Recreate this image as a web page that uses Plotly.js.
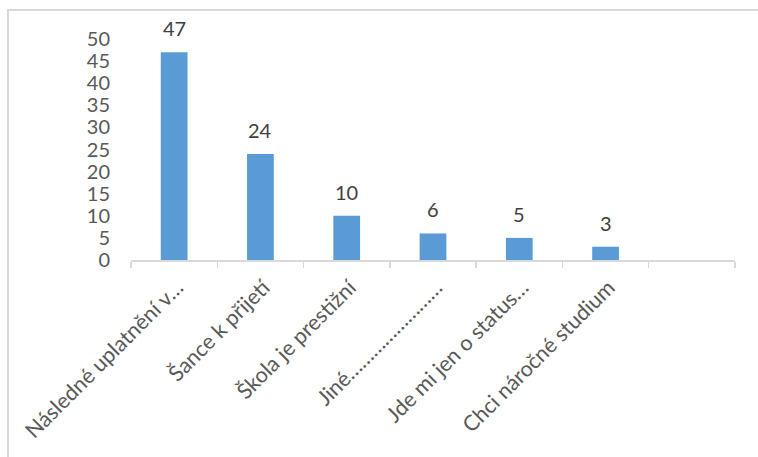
<!DOCTYPE html>
<html>
<head>
<meta charset="utf-8">
<script src="https://cdn.plot.ly/plotly-3.0.1.min.js"></script>
<style>
html,body{margin:0;padding:0;background:#fff;}
#chart{width:758px;height:457px;}
</style>
</head>
<body>
<div id="chart"></div>
<script>
const categories = [
  "Následné uplatnění v…",
  "Šance k přijetí",
  "Škola je prestižní",
  "Jiné\u2026\u2026\u2026\u2026\u2026\u2026\u2026\u2026",
  "Jde mi jen o status…",
  "Chci náročné studium",
  " "
];
const values = [47, 24, 10, 6, 5, 3, null];
const yTicks = [0, 5, 10, 15, 20, 25, 30, 35, 40, 45, 50];

const FONT = "Lato, Carlito, 'Liberation Sans', sans-serif";

const annotations = categories
  .map((c, i) => ({c, v: values[i]}))
  .filter(d => d.v !== null)
  .map(d => ({
    x: d.c, y: d.v, xref: 'x', yref: 'y',
    text: String(d.v), showarrow: false,
    yanchor: 'bottom', yshift: 10,
    font: {family: FONT, size: 20, color: '#404040'}
  }));

const trace = {
  type: 'bar',
  x: categories,
  y: values,
  marker: {color: '#5b9bd5'},
  width: 0.31,
  hoverinfo: 'none'
};

const layout = {
  width: 758, height: 457,
  margin: {l: 131, r: 23, t: 39, b: 197},
  paper_bgcolor: '#ffffff',
  plot_bgcolor: '#ffffff',
  showlegend: false,
  font: {family: FONT, color: '#595959'},
  xaxis: {
    type: 'category',
    categoryorder: 'array',
    categoryarray: categories,
    range: [-0.5, 6.5],
    tickangle: -45,
    tickson: 'boundaries',
    ticks: 'outside',
    ticklen: 6,
    tickcolor: '#d9d9d9',
    tickwidth: 1.5,
    showline: true,
    linecolor: '#d9d9d9',
    linewidth: 1.5,
    showgrid: false,
    zeroline: false,
    ticklabelstandoff: 5,
    ticklabelshift: 3,
    tickfont: {family: FONT, size: 21.5, color: '#595959'},
    fixedrange: true
  },
  yaxis: {
    range: [0, 50],
    tickvals: yTicks,
    ticktext: yTicks.map(String),
    showgrid: false,
    zeroline: false,
    showline: false,
    ticks: '',
    ticklabelstandoff: 20,
    tickfont: {family: FONT, size: 20, color: '#595959'},
    fixedrange: true
  },
  annotations: annotations,
  shapes: [{
    type: 'rect', xref: 'paper', yref: 'paper',
    x0: -0.2036, x1: 1.2, y0: -1.2, y1: 1.131,
    line: {color: '#d9d9d9', width: 2},
    fillcolor: 'rgba(0,0,0,0)',
    layer: 'below'
  }]
};

Plotly.newPlot('chart', [trace], layout, {displayModeBar: false, staticPlot: true});
</script>
</body>
</html>
